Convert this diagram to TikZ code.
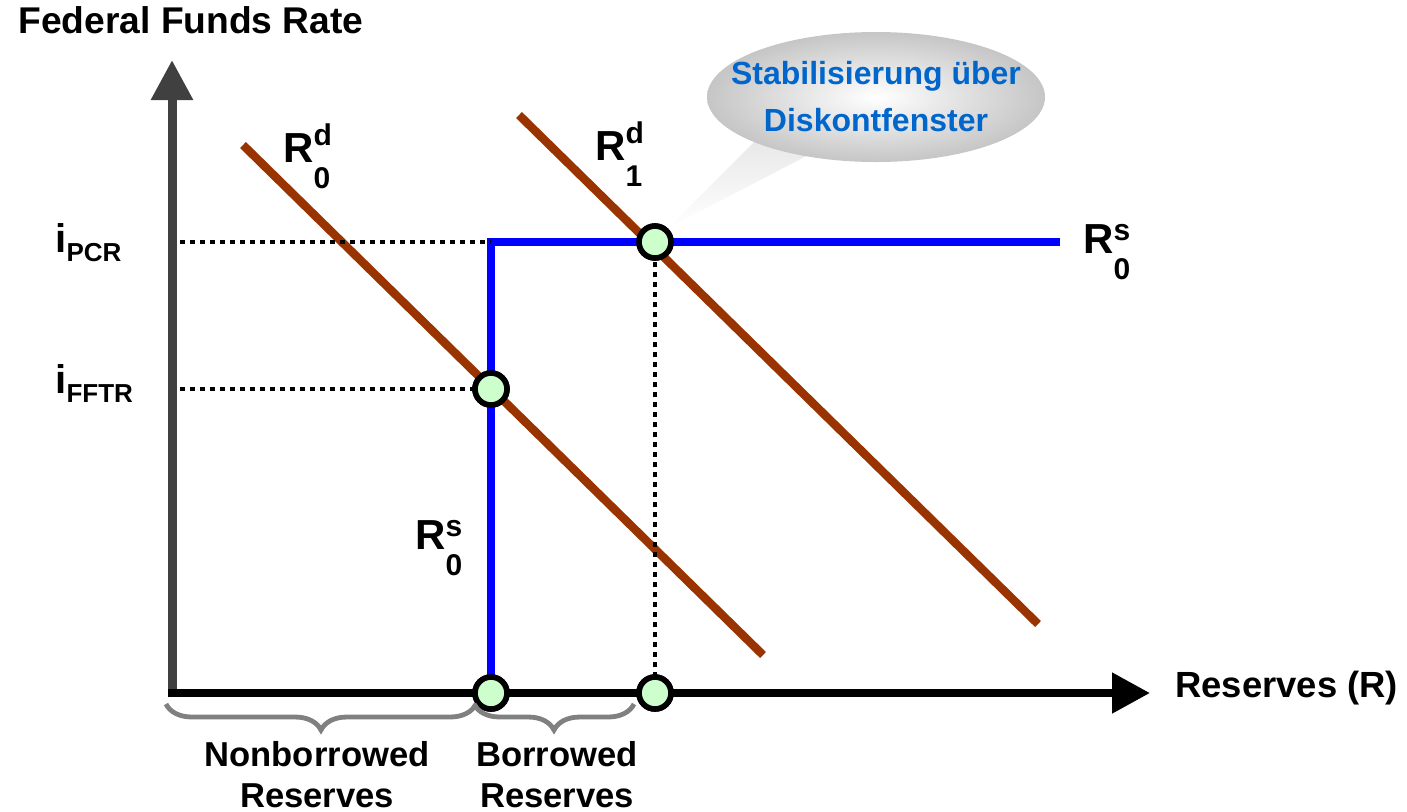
\documentclass[tikz,border=0pt]{standalone}
\usepackage{fontspec}
\setmainfont{Liberation Sans}
\usetikzlibrary{arrows.meta,decorations.pathreplacing,shadings}
\definecolor{demand}{HTML}{993300}
\definecolor{supply}{HTML}{0000FF}
\definecolor{dotfill}{HTML}{CCFFCC}
\definecolor{axisgray}{HTML}{404040}
\definecolor{bracegray}{HTML}{808080}
\definecolor{callblue}{HTML}{0066CC}
\newcommand{\fs}[1]{\fontsize{#1}{#1}\selectfont}
\newcommand{\Rlab}[3]{{\fs{21}R}\rlap{\raisebox{#3}{\fs{15}#1}}\raisebox{-13pt}{\fs{15}#2}}
\newcommand{\ilab}[1]{{\fs{20}i}\raisebox{-4.5pt}{\fs{13}#1}}
\tikzset{
  demandline/.style={draw=demand, line width=4.2pt},
  supplyline/.style={draw=supply, line width=4.2pt},
  guide/.style={draw=black, line width=2.4pt, dash pattern=on 2.4pt off 2.6pt},
  eqpt/.style={circle, draw=black, fill=dotfill, line width=2.8pt, minimum size=16pt, inner sep=0pt},
  lbl/.style={font=\bfseries, inner sep=0pt},
  bracepath/.style={draw=bracegray, line width=2.4pt, decorate, decoration={brace, mirror, amplitude=13pt}},
}
\begin{document}
\begin{tikzpicture}[x=0.5pt, y=-0.5pt]
\useasboundingbox (0,0) rectangle (1407,811);

% callout
\coordinate (tip) at (668,228);
\shade[top color=gray!18, bottom color=white] (756,140) -- (818,150) -- (tip) -- cycle;
\shade[inner color=white, outer color=gray!45] (876,97) ellipse [x radius=169, y radius=65];
\node[lbl, text=callblue, anchor=base, font=\bfseries\fs{16}] (c1) at (876,84) {Stabilisierung über};
\node[lbl, text=callblue, anchor=base, font=\bfseries\fs{16}] (c2) at (876,131) {Diskontfenster};

% key coordinates
\coordinate (O) at (168,693);
\coordinate (ytip) at (172,60);
\coordinate (xtip) at (1150,693);
\coordinate (d0a) at (243,145);
\coordinate (d0b) at (763,655);
\coordinate (d1a) at (519,115);
\coordinate (d1b) at (1038,624);
\coordinate (sTop) at (491,242);
\coordinate (sEnd) at (1060,242);
\coordinate (yPCR) at (180,242);
\coordinate (yFF) at (180,389);

% demand lines
\draw[demandline] (d0a) -- (d0b);
\draw[demandline] (d1a) -- (d1b);

% equilibrium points (positions)
\node[eqpt] (pFF) at (491,389) {};
\node[eqpt] (pPCR) at (655,242) {};
\node[eqpt] (pN) at (491,693) {};
\node[eqpt] (pB) at (655,693) {};

% supply
\draw[supplyline] (pN.center) -- (sTop) -- (sEnd);

% guides
\draw[guide] (yPCR) -- (sTop);
\draw[guide] (yFF) -- (pFF.center);
\draw[guide] (pPCR.center) -- (pB.center);

% axes
\draw[axisgray, line width=4.5pt, -{Triangle[width=20, length=20]}] (172,697) -- (ytip);
\draw[black, line width=4pt, -{Triangle[width=19.5, length=19]}] (O) -- (xtip);

% points on top
\node[eqpt] at (pFF) {};
\node[eqpt] at (pPCR) {};
\node[eqpt] at (pN) {};
\node[eqpt] at (pB) {};

% braces
\draw[bracepath] (166,704) -- (476,704);
\draw[bracepath] (474,704) -- (634,704);

% labels
\node[lbl, anchor=base, font=\bfseries\fs{18.6}] (ytitle) at (191,33) {Federal Funds Rate};
\node[lbl, anchor=base west, font=\bfseries\fs{18.2}] (xtitle) at (1175,697) {Reserves (R)};
\node[lbl, anchor=base west] (iPCR) at (55,252) {\ilab{PCR}};
\node[lbl, anchor=base west] (iFF) at (55,393) {\ilab{FFTR}};
\node[lbl, anchor=base west] (Rd0) at (283,162) {\Rlab{d}{0}{8.5pt}};
\node[lbl, anchor=base west] (Rd1) at (595,160) {\Rlab{d}{1}{8.5pt}};
\node[lbl, anchor=base west] (Rs0a) at (1083,253) {\Rlab{s}{0}{6.5pt}};
\node[lbl, anchor=base west] (Rs0b) at (415,549) {\Rlab{s}{0}{6.5pt}};
\node[lbl, anchor=north, align=center, font=\bfseries\fs{17.3}] (nbr) at (317,741) {Nonborrowed\\[3pt]Reserves};
\node[lbl, anchor=north, align=center, font=\bfseries\fs{17.3}] (br) at (557,741) {Borrowed\\[3pt]Reserves};
\end{tikzpicture}
\end{document}
